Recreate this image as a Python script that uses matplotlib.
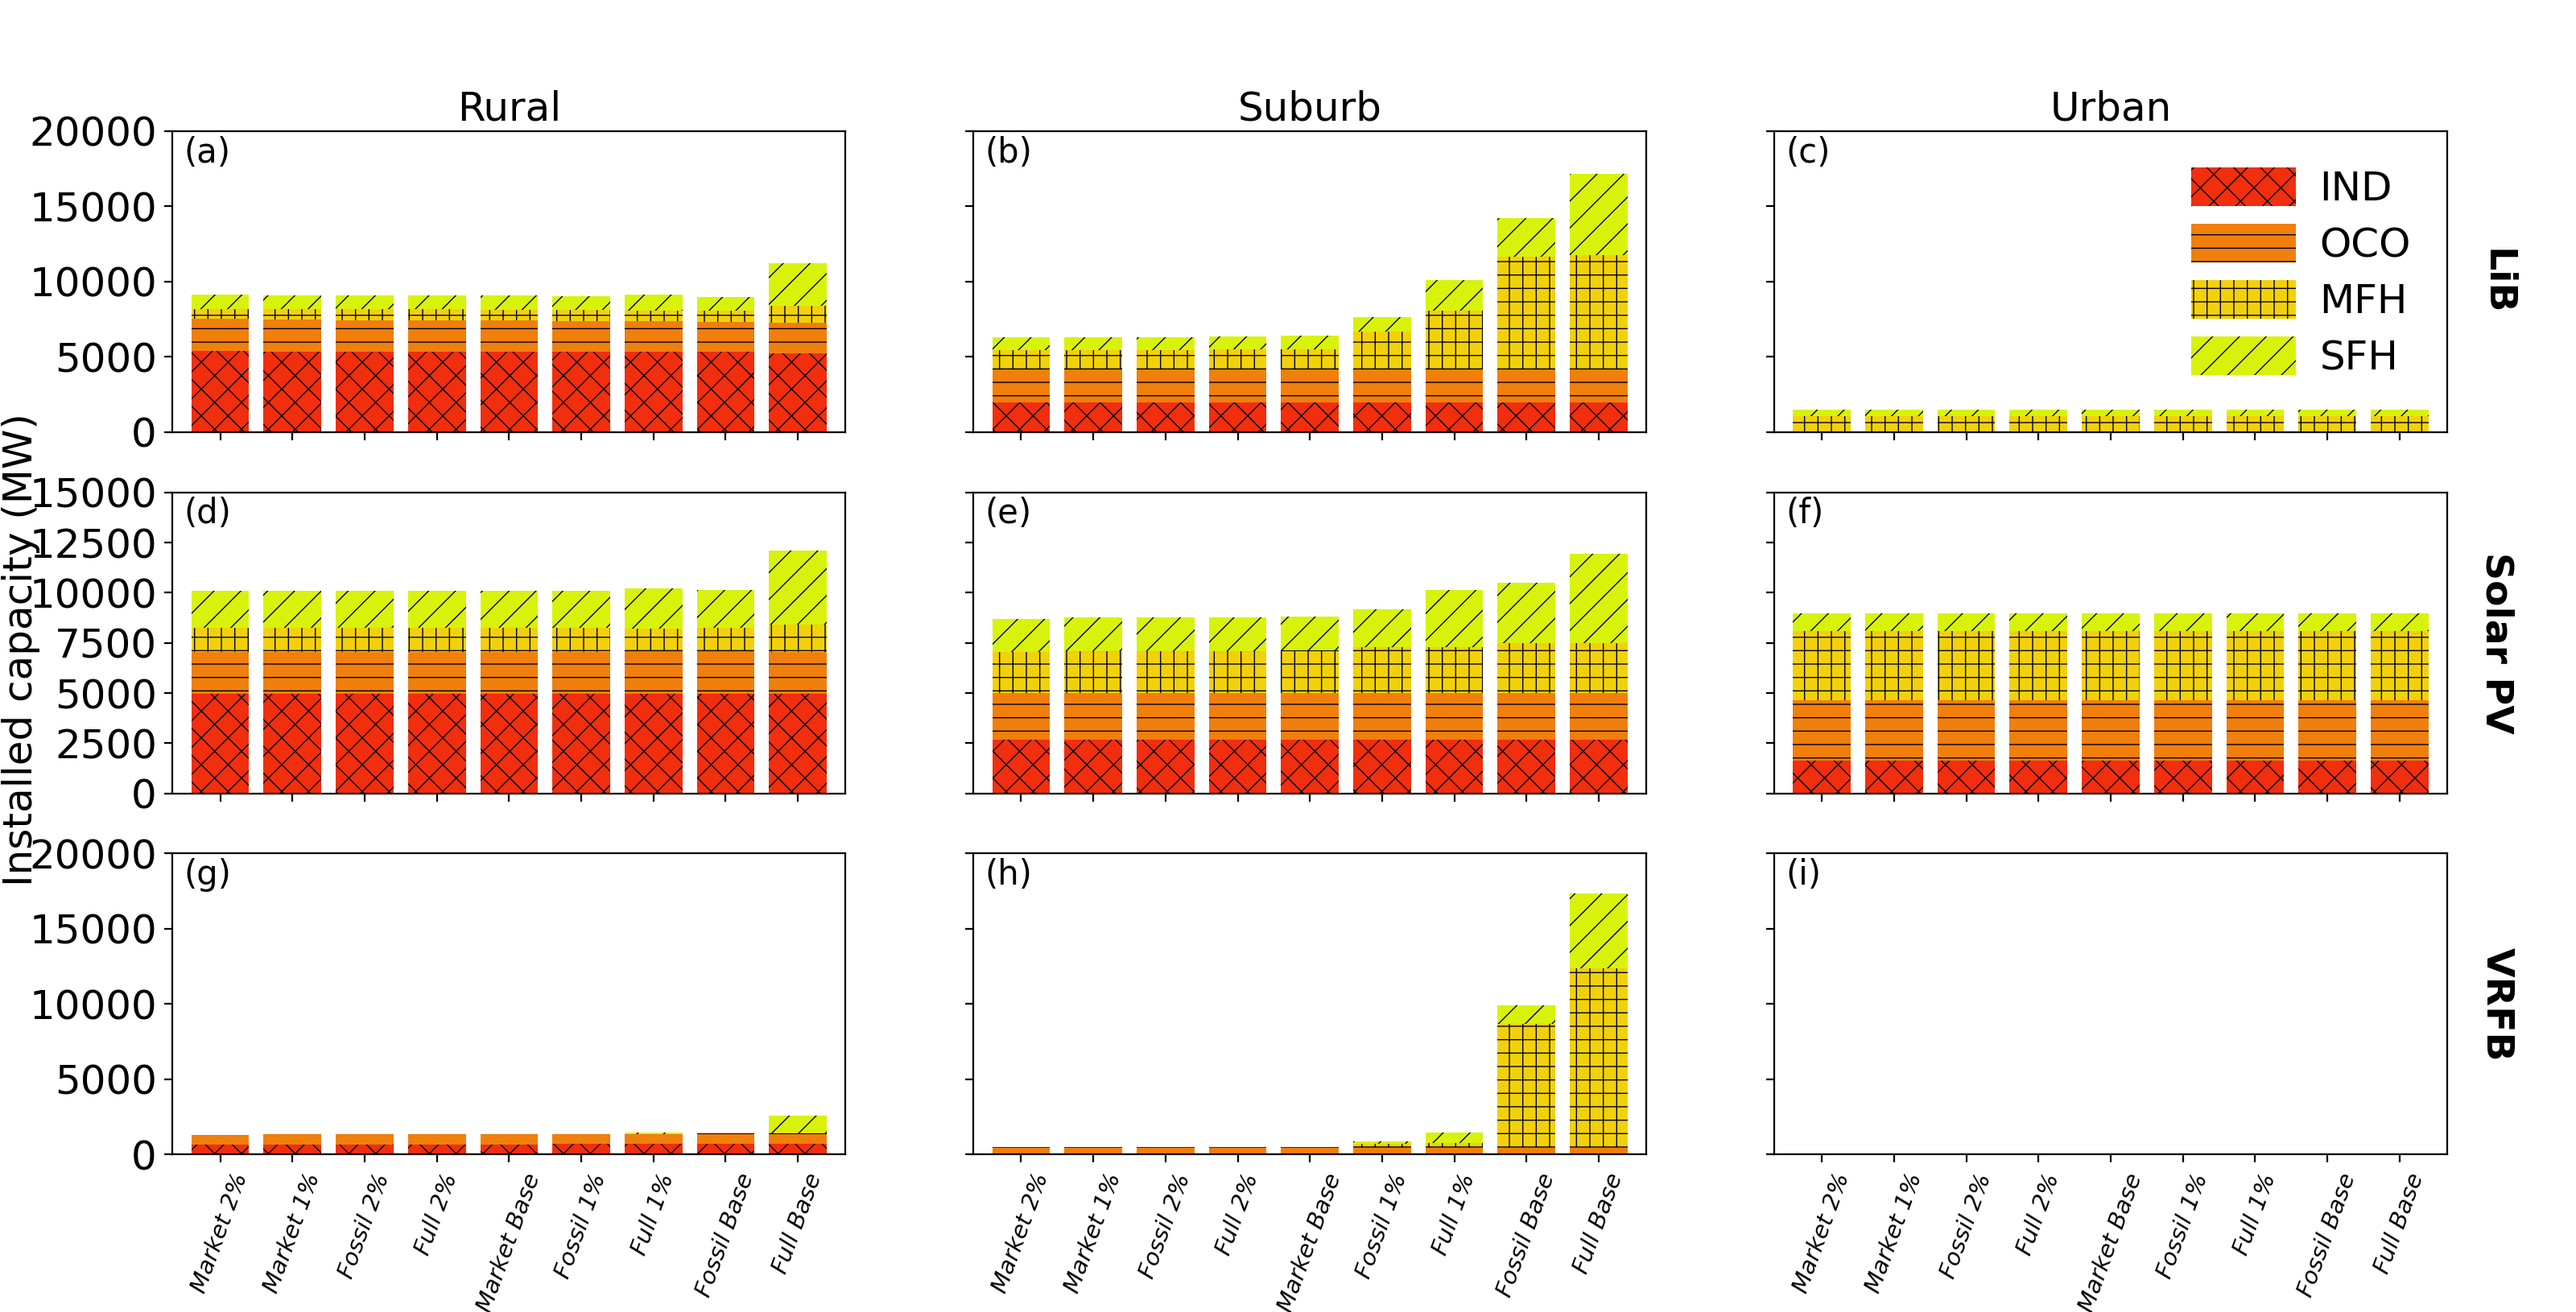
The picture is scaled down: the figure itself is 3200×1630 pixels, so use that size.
import matplotlib
matplotlib.use("Agg")
import matplotlib.pyplot as plt
import numpy as np

scenarios = ["Market 2%", "Market 1%", "Fossil 2%", "Full 2%", "Market Base",
             "Fossil 1%", "Full 1%", "Fossil Base", "Full Base"]
sectors = ["IND", "OCO", "MFH", "SFH"]
regions = ["Rural", "Suburb", "Urban"]
techs = ["LiB", "Solar PV", "VRFB"]

# installed capacity in MW, rows = IND, OCO, MFH, SFH
lib_rural = [[5410, 5360, 5360, 5360, 5360, 5360, 5360, 5360, 5230],
             [2120, 2110, 2060, 2060, 2060, 2010, 2010, 1950, 2030],
             [640, 700, 750, 750, 690, 740, 690, 750, 1140],
             [960, 900, 900, 900, 960, 910, 1070, 910, 2810]]
lib_suburb = [[1980] * 9,
              [2250] * 9,
              [1210, 1210, 1210, 1270, 1270, 2440, 3830, 7410, 7510],
              [860, 860, 860, 850, 910, 960, 2030, 2560, 5450]]
lib_urban = [[0] * 9, [0] * 9, [1070] * 9, [420] * 9]

pv_rural = [[4950] * 9,
            [2090, 2090, 2090, 2090, 2090, 2090, 2130, 2130, 2090],
            [1230, 1230, 1230, 1230, 1230, 1230, 1150, 1190, 1380],
            [1810, 1810, 1810, 1810, 1810, 1810, 1970, 1850, 3700]]
pv_suburb = [[2690] * 9,
             [2300] * 9,
             [2050, 2090, 2090, 2090, 2130, 2290, 2290, 2490, 2490],
             [1670, 1680, 1680, 1680, 1680, 1880, 2840, 3000, 4450]]
pv_urban = [[1650] * 9, [2970] * 9, [3470] * 9, [870] * 9]

vrfb_rural = [[660, 660, 660, 660, 660, 710, 710, 710, 710],
              [640, 700, 700, 700, 700, 650, 650, 650, 650],
              [0, 0, 0, 0, 0, 0, 20, 40, 40],
              [0, 0, 0, 0, 0, 0, 80, 0, 1190]]
vrfb_suburb = [[0] * 9,
               [480] * 9,
               [0, 0, 0, 0, 0, 220, 270, 8210, 11880],
               [0, 0, 0, 0, 0, 160, 700, 1210, 4980]]
vrfb_urban = [[0] * 9, [0] * 9, [0] * 9, [0] * 9]

panels = [[lib_rural, lib_suburb, lib_urban],
          [pv_rural, pv_suburb, pv_urban],
          [vrfb_rural, vrfb_suburb, vrfb_urban]]
ymax = [20000, 15000, 20000]
ystep = [5000, 2500, 5000]

colors = ["#f12e0d", "#f07f0c", "#f2d10b", "#d9f20b"]
hatches = ["xx", "--", "++", "//"]

plt.rcParams.update({"font.family": "DejaVu Sans", "hatch.linewidth": 0.5})
fig, axes = plt.subplots(3, 3, figsize=(16, 8.15), dpi=200, sharey="row")
fig.subplots_adjust(left=0.067, right=0.95, top=0.9, bottom=0.12, wspace=0.19, hspace=0.2)

x = np.arange(len(scenarios))
letters = "abcdefghi"
for r in range(3):
    for c in range(3):
        ax = axes[r, c]
        bottom = np.zeros(len(scenarios))
        for vals, col, h, lab in zip(panels[r][c], colors, hatches, sectors):
            vals = np.array(vals, dtype=float)
            ax.bar(x, vals, 0.8, bottom=bottom, color=col, hatch=h, linewidth=0, label=lab)
            bottom += vals
        ax.set_xlim(-0.66, 8.66)
        ax.set_ylim(0, ymax[r])
        ax.set_yticks(np.arange(0, ymax[r] + 1, ystep[r]))
        ax.tick_params(axis="y", labelsize=18)
        ax.set_xticks(x)
        if r == 2:
            ax.set_xticklabels(scenarios, rotation=70, fontsize=10.5, style="italic")
        else:
            ax.set_xticklabels([])
        ax.text(0.017, 0.985, f"({letters[r * 3 + c]})", transform=ax.transAxes,
                va="top", ha="left", fontsize=15)
        if r == 0:
            ax.set_title(regions[c], fontsize=18, pad=5)
    axes[r, 2].text(1.073, 0.5, techs[r], transform=axes[r, 2].transAxes, rotation=270,
                    va="center", ha="center", fontsize=17, fontweight="bold")

axes[0, 2].legend(loc="upper right", frameon=False, fontsize=18, handlelength=2.6,
                  handleheight=1.1, labelspacing=0.38, handletextpad=0.6)
fig.text(0.008, 0.505, "Installed capacity (MW)", rotation=90, va="center", ha="center", fontsize=18)

plt.savefig("out.png", dpi=200)
plt.close(fig)
